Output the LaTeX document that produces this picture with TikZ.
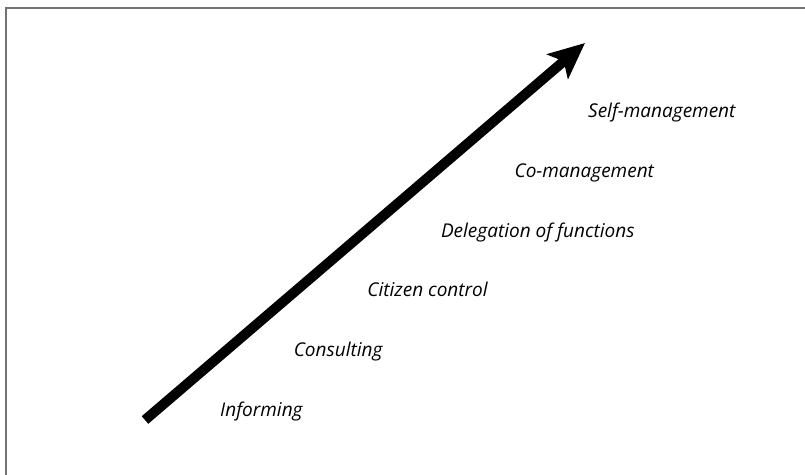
\documentclass[tikz,border=0pt]{standalone}
\usepackage{fontspec}
\setsansfont{Open Sans}
\usetikzlibrary{positioning,arrows.meta}

\tikzset{
  level/.style={inner sep=0pt, anchor=base west, text=black,
    font=\sffamily\itshape\fontsize{19}{22}\selectfont},
  frame/.style={draw=black!55, line width=1.2pt},
  rise/.style={line width=10pt, -{Stealth[length=36pt, width=32pt, inset=8pt]}},
}

\begin{document}
\begin{tikzpicture}[x=1pt, y=1pt]
    \useasboundingbox (0,0) rectangle (805,474);
    \draw[frame] (6,-5) -- (6,466) -- (810,466);

    \node[level] (informing) at (220,58) {Informing};
    \node[level, above right=59.6pt and 73.6pt of informing.base west, anchor=base west] (consulting) {Consulting};
    \node[level, above right=59.6pt and 73.6pt of consulting.base west, anchor=base west] (citizen) {Citizen control};
    \node[level, above right=59.6pt and 73.6pt of citizen.base west, anchor=base west] (delegation) {Delegation of functions};
    \node[level, above right=59.6pt and 73.6pt of delegation.base west, anchor=base west] (comanagement) {Co-management};
    \node[level, above right=59.6pt and 73.6pt of comanagement.base west, anchor=base west] (selfmanagement) {Self-management};

    \coordinate (low) at (145,54);
    \coordinate (high) at (585,431);
    \draw[rise] (low) -- (high);
  \end{tikzpicture}
\end{document}
